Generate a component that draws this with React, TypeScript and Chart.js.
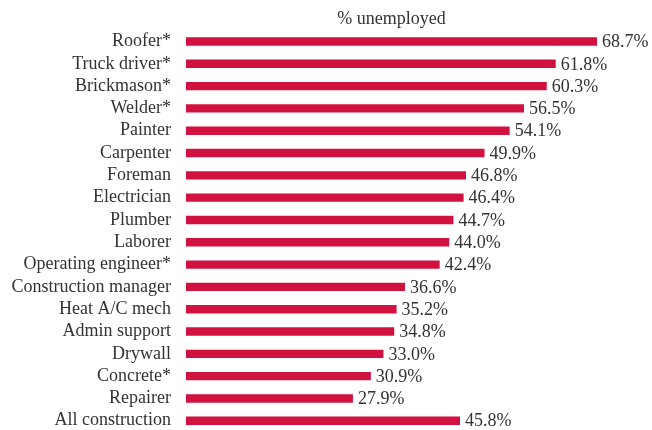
import React, { useEffect, useRef } from "react";
import { Chart, registerables } from "chart.js";

Chart.register(...registerables);

const categories: string[] = [
  "Roofer*",
  "Truck driver*",
  "Brickmason*",
  "Welder*",
  "Painter",
  "Carpenter",
  "Foreman",
  "Electrician",
  "Plumber",
  "Laborer",
  "Operating engineer*",
  "Construction manager",
  "Heat A/C mech",
  "Admin support",
  "Drywall",
  "Concrete*",
  "Repairer",
  "All construction",
];

const unemployed: number[] = [
  68.7, 61.8, 60.3, 56.5, 54.1, 49.9, 46.8, 46.4, 44.7, 44.0, 42.4, 36.6, 35.2,
  34.8, 33.0, 30.9, 27.9, 45.8,
];

const titleText = "% unemployed";
const FONT = '"Liberation Serif", "Times New Roman", serif';
const TEXT_COLOR = "#333333";
const BAR_COLOR = "#d1113f";

const labelPlugin = {
  id: "labelsAndTitle",
  afterDatasetsDraw(chart: any) {
    const ctx = chart.ctx;
    const area = chart.chartArea;
    ctx.save();
    ctx.font = `18px ${FONT}`;
    ctx.fillStyle = TEXT_COLOR;
    ctx.textBaseline = "middle";
    ctx.textAlign = "center";
    ctx.fillText(titleText, (area.left + area.right) / 2, 19);
    ctx.textAlign = "left";
    const meta = chart.getDatasetMeta(0);
    meta.data.forEach((bar: any, i: number) => {
      const v = chart.data.datasets[0].data[i] as number;
      ctx.fillText(v.toFixed(1) + "%", bar.x + 5, bar.y + 1);
    });
    ctx.restore();
  },
};

export default function App() {
  const ref = useRef<HTMLCanvasElement | null>(null);
  useEffect(() => {
    if (!ref.current) return;
    const chart = new Chart(ref.current, {
      type: "bar",
      data: {
        labels: categories,
        datasets: [
          {
            data: unemployed,
            backgroundColor: BAR_COLOR,
            borderWidth: 0,
            barPercentage: 0.376,
            categoryPercentage: 1,
          },
        ],
      },
      options: {
        indexAxis: "y",
        responsive: false,
        animation: false,
        devicePixelRatio: 1,
        layout: { padding: { top: 30.35, bottom: 8.1, left: 0, right: 55 } },
        plugins: {
          legend: { display: false },
          title: { display: false },
          tooltip: { enabled: false },
        },
        scales: {
          x: {
            display: false,
            min: 0,
            max: 68.7,
          },
          y: {
            grid: { display: false, drawTicks: false },
            border: { display: false },
            ticks: {
              padding: 15,
              color: TEXT_COLOR,
              font: { family: FONT, size: 18 },
              autoSkip: false,
            },
            afterFit(scale: any) {
              scale.width = 186;
              scale.paddingTop = 0;
              scale.paddingBottom = 0;
            },
          },
        },
      },
      plugins: [labelPlugin],
    });
    return () => chart.destroy();
  }, []);
  return (
    <div
      style={{
        position: "fixed",
        left: 0,
        top: 0,
        width: 652,
        height: 430,
        overflow: "hidden",
        background: "#ffffff",
      }}
    >
      <canvas ref={ref} width={652} height={440} style={{ display: "block" }} />
    </div>
  );
}
